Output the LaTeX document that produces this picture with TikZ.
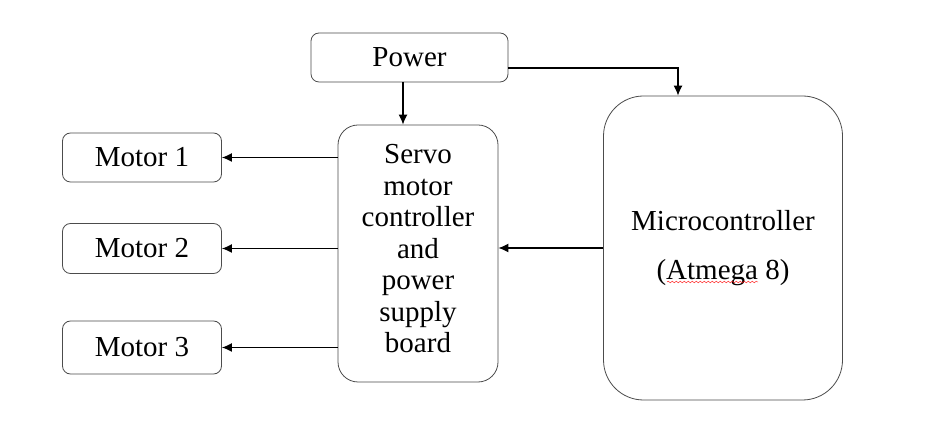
\documentclass[tikz,border=0pt]{standalone}
\usepackage{fontspec}
\setmainfont{Liberation Serif}
\usepackage{tikz}
\usetikzlibrary{arrows.meta}
\usetikzlibrary{decorations.pathmorphing}

\tikzset{
  box/.style={draw=black!70, thin, rounded corners=4pt, align=center,
    inner sep=0pt, font=\fontsize{14.5}{15.75}\selectfont},
  link/.style={-{Latex[length=5pt,width=4.5pt]}, semithick}
}

\begin{document}
\begin{tikzpicture}[x=0.5pt, y=-0.5pt]
        \useasboundingbox [fill=white] (0,0) rectangle (935,437);
        %
        \node [box, minimum width=98.5pt, minimum height=24.5pt] (power) at (409.5,57.5) {Power};
        %
        \node [box, minimum width=79.5pt, minimum height=24.5pt] (motorA) at (142,157.5) {Motor 1};
        \node [box, minimum width=79.5pt, minimum height=25pt] (motorB) at (142,248.5) {Motor 2};
        \node [box, minimum width=79.5pt, minimum height=26.5pt] (motorC) at (142,347.5) {Motor 3};
        %
        \node [box, rounded corners=10pt, minimum width=80pt, minimum height=128.5pt, text depth=5pt] (servo) at (418,253.5)
          {Servo\\motor\\controller\\and\\power\\supply\\board};
        %
        \node [box, rounded corners=20pt, minimum width=119.5pt, minimum height=152pt] (micro) at (723,248)
          {Microcontroller\\[9pt](Atmega 8)};
        \draw [red, very thin, decorate, decoration={snake, amplitude=0.4pt, segment length=2pt}]
          ([shift={(-28pt,-17pt)}]micro.center) -- ([shift={(17.5pt,-17pt)}]micro.center);
        %
        \draw [link] ([xshift=-3.25pt]power.south) -- ([xshift=-3.25pt]power.south |- servo.north);
        \draw [link] ([yshift=-5.25pt]power.east) -| ([xshift=-22.5pt]micro.north);
        %
        \draw [link] (motorA.east -| servo.west) -- (motorA.east);
        \draw [link] (motorB.east -| servo.west) -- (motorB.east);
        \draw [link] (motorC.east -| servo.west) -- (motorC.east);
        %
        \draw [link] (micro.west) -- (micro.west -| servo.east);
      \end{tikzpicture}
\end{document}
